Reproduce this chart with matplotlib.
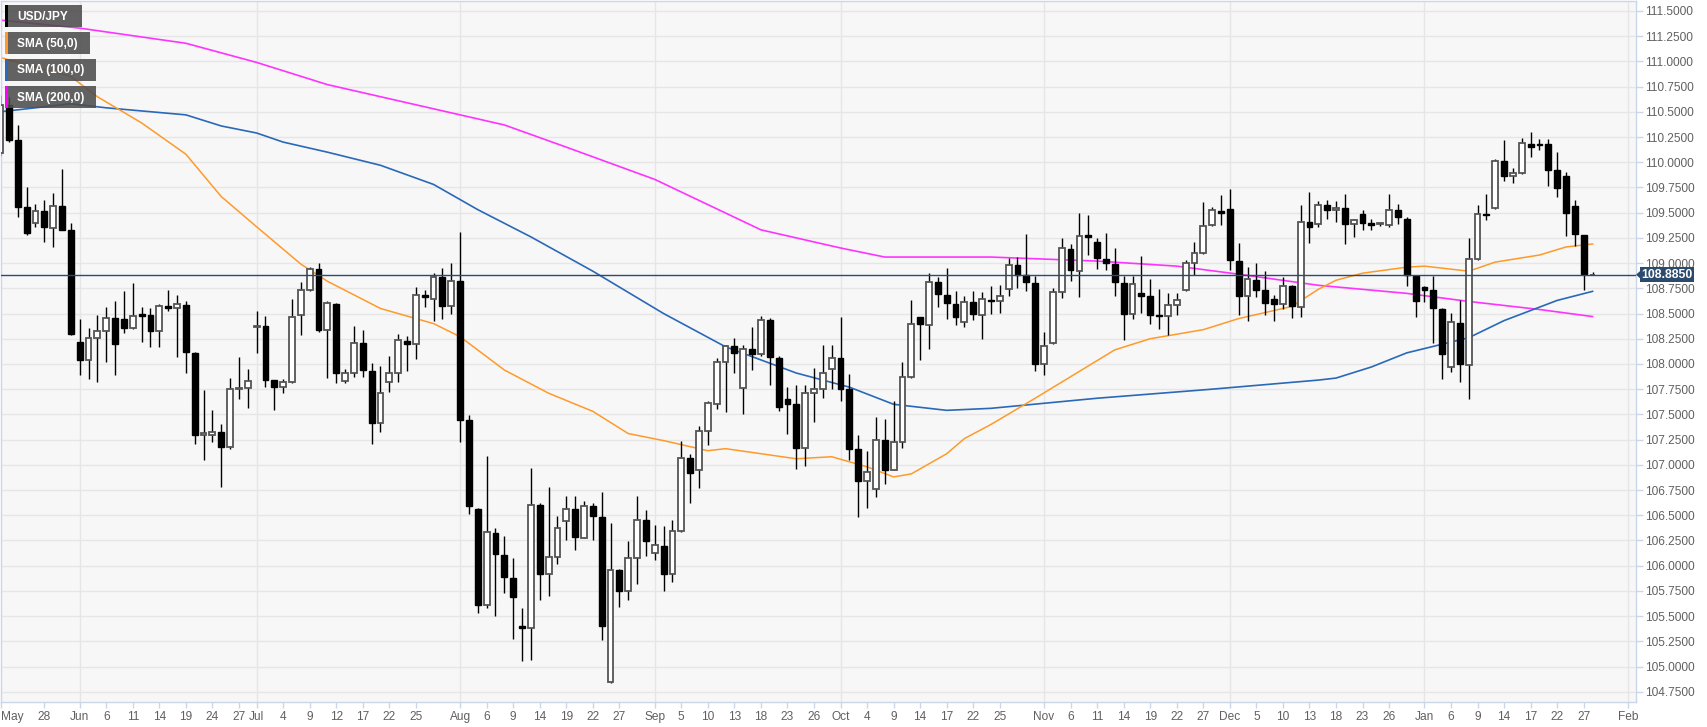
import numpy as np
import pandas as pd
import matplotlib
matplotlib.use('Agg')
import matplotlib.pyplot as plt
from matplotlib.patches import Rectangle, Polygon

plt.rcParams['font.family'] = ['Liberation Sans', 'DejaVu Sans']

# ---------------- data ----------------
start_date, end_date = '2019-05-21', '2020-01-28'
pair = 'USD/JPY'
last_price = 108.885

opens = [
    110.09, 110.57, 110.22, 109.56,
    109.40, 109.52, 109.35, 109.57, 109.33,
    108.22, 108.04, 108.26, 108.33, 108.46,
    108.45, 108.36, 108.50, 108.49, 108.33,
    108.57, 108.55, 108.58, 108.11, 107.30,
    107.30, 107.33, 107.18, 107.75, 107.76,
    108.37, 108.38, 107.84, 107.77, 107.82,
    108.49, 108.73, 108.94, 108.34, 108.59,
    107.83, 107.91, 108.21, 107.93, 107.41,
    107.82, 107.91, 108.23, 108.20, 108.68,
    108.64, 108.86, 108.57, 108.82, 107.44,
    106.56, 105.61, 106.32, 106.11, 105.88,
    105.40, 105.38, 106.60, 105.92, 106.09,
    106.44, 106.56, 106.27, 106.59, 106.48,
    104.85, 105.96, 105.75, 106.08, 106.45,
    106.13, 106.19, 105.92, 106.34, 107.07,
    106.95, 107.34, 107.60, 108.02, 108.18,
    107.76, 108.15, 108.10, 108.44, 108.06,
    107.65, 107.60, 107.17, 107.71, 107.75,
    107.95, 108.06, 107.75, 107.16, 106.84,
    106.76, 107.25, 106.95, 107.23, 107.87,
    108.47, 108.39, 108.81, 108.68, 108.59,
    108.42, 108.61, 108.49, 108.63, 108.62,
    108.74, 108.98, 108.88, 108.80, 108.00,
    108.21, 108.71, 109.14, 108.92, 109.28,
    109.21, 109.04, 108.99, 108.80, 108.50,
    108.70, 108.67, 108.49, 108.48, 108.58,
    108.73, 109.00, 109.10, 109.38, 109.52,
    109.54, 109.02, 108.67, 108.83, 108.73,
    108.64, 108.59, 108.77, 108.56, 109.41,
    109.39, 109.58, 109.53, 109.55, 109.39,
    109.49, 109.40, 109.39, 109.38, 109.53,
    109.44, 108.87, 108.76, 108.73, 108.54,
    107.97, 108.41, 107.99, 109.04, 109.49,
    109.55, 110.01, 109.86, 109.89, 110.18,
    110.18, 110.18, 109.92, 109.86, 109.57,
    109.28, 108.88,
]
highs = [
    110.67, 110.65, 110.37, 109.75,
    109.59, 109.63, 109.70, 109.93, 109.40,
    108.45, 108.36, 108.49, 108.56, 108.62,
    108.72, 108.80, 108.56, 108.55, 108.59,
    108.73, 108.68, 108.62, 108.12, 107.74,
    107.54, 107.40, 107.86, 108.07, 107.95,
    108.53, 108.48, 107.84, 107.85, 108.64,
    108.81, 108.96, 109.00, 108.62, 108.60,
    107.95, 108.38, 108.34, 108.01, 107.98,
    108.08, 108.30, 108.28, 108.76, 108.73,
    108.90, 108.95, 109.00, 109.31, 107.49,
    106.57, 107.09, 106.37, 106.29, 106.08,
    105.58, 106.97, 106.62, 106.78, 106.49,
    106.69, 106.69, 106.64, 106.62, 106.73,
    106.42, 105.97, 106.24, 106.69, 106.55,
    106.40, 106.39, 106.45, 107.24, 107.11,
    107.38, 107.63, 108.06, 108.19, 108.26,
    108.19, 108.37, 108.48, 108.46, 108.08,
    107.77, 107.79, 107.79, 107.96, 108.19,
    108.19, 108.47, 107.90, 107.30, 107.14,
    107.47, 107.45, 107.63, 108.02, 108.63,
    108.47, 108.90, 108.86, 108.95, 108.72,
    108.67, 108.72, 108.71, 108.77, 108.78,
    109.05, 109.06, 109.29, 108.87, 108.32,
    108.75, 109.25, 109.19, 109.50, 109.48,
    109.25, 109.30, 109.15, 108.87, 108.87,
    109.07, 108.84, 108.74, 108.70, 108.70,
    109.03, 109.21, 109.61, 109.56, 109.68,
    109.73, 109.20, 108.96, 109.00, 108.92,
    108.68, 108.86, 108.78, 109.58, 109.71,
    109.62, 109.63, 109.62, 109.69, 109.44,
    109.53, 109.44, 109.40, 109.69, 109.59,
    109.46, 108.87, 108.77, 108.87, 108.55,
    108.51, 108.63, 109.25, 109.58, 109.69,
    110.03, 110.22, 109.94, 110.24, 110.30,
    110.23, 110.23, 110.10, 109.90, 109.63,
    109.28, 108.91,
]
lows = [
    110.06, 110.20, 109.46, 109.28,
    109.36, 109.21, 109.16, 109.33, 108.29,
    107.89, 107.85, 107.82, 108.02, 107.89,
    108.31, 108.35, 108.22, 108.17, 108.17,
    108.53, 108.07, 107.91, 107.21, 107.05,
    107.23, 106.78, 107.16, 107.65, 107.56,
    108.11, 107.77, 107.54, 107.71, 107.81,
    108.29, 108.72, 108.32, 107.86, 107.81,
    107.81, 107.87, 107.87, 107.21, 107.33,
    107.72, 107.82, 107.93, 108.05, 108.56,
    108.43, 108.45, 108.50, 107.23, 106.51,
    105.53, 105.58, 105.50, 105.73, 105.27,
    105.05, 105.06, 105.66, 105.70, 106.02,
    106.25, 106.16, 106.27, 106.25, 105.26,
    104.84, 105.59, 105.66, 105.82, 106.10,
    106.06, 105.75, 105.84, 106.33, 106.62,
    106.77, 107.20, 107.55, 107.52, 107.91,
    107.50, 107.94, 108.08, 107.79, 107.53,
    107.31, 106.96, 106.99, 107.42, 107.66,
    107.75, 107.63, 107.05, 106.48, 106.57,
    106.68, 106.81, 106.95, 107.17, 107.86,
    108.04, 108.15, 108.56, 108.45, 108.39,
    108.37, 108.44, 108.25, 108.50, 108.51,
    108.67, 108.75, 108.72, 107.93, 107.89,
    108.20, 108.65, 108.82, 108.66, 109.08,
    108.94, 108.93, 108.67, 108.24, 108.45,
    108.51, 108.40, 108.35, 108.29, 108.49,
    108.72, 108.88, 109.09, 109.37, 109.38,
    108.93, 108.49, 108.43, 108.66, 108.49,
    108.43, 108.54, 108.46, 108.47, 109.20,
    109.36, 109.44, 109.41, 109.19, 109.26,
    109.33, 109.33, 109.37, 109.36, 109.39,
    108.77, 108.47, 108.61, 108.21, 107.85,
    107.92, 107.82, 107.65, 109.03, 109.43,
    109.54, 109.81, 109.79, 109.88, 110.05,
    110.12, 109.76, 109.66, 109.27, 109.17,
    108.73, 108.88,
]
closes = [
    110.57, 110.22, 109.56, 109.30,
    109.52, 109.36, 109.57, 109.33, 108.30,
    108.04, 108.26, 108.33, 108.46, 108.20,
    108.36, 108.48, 108.48, 108.33, 108.57,
    108.55, 108.59, 108.12, 107.30, 107.32,
    107.33, 107.18, 107.75, 107.76, 107.83,
    108.38, 107.84, 107.77, 107.82, 108.47,
    108.73, 108.94, 108.34, 108.60, 107.91,
    107.91, 108.21, 107.94, 107.41, 107.71,
    107.91, 108.24, 108.20, 108.68, 108.66,
    108.86, 108.57, 108.82, 107.44, 106.59,
    105.61, 106.33, 106.12, 105.89, 105.69,
    105.38, 106.60, 105.92, 106.09, 106.37,
    106.56, 106.28, 106.59, 106.49, 105.40,
    105.96, 105.75, 106.08, 106.45, 106.24,
    106.20, 105.92, 106.34, 107.07, 106.92,
    107.34, 107.61, 108.02, 108.18, 108.11,
    108.15, 108.10, 108.44, 108.07, 107.57,
    107.60, 107.17, 107.71, 107.75, 107.91,
    108.06, 107.75, 107.16, 106.84, 106.93,
    107.25, 106.95, 107.23, 107.87, 108.40,
    108.40, 108.81, 108.69, 108.60, 108.47,
    108.61, 108.50, 108.64, 108.62, 108.67,
    108.98, 108.88, 108.81, 108.00, 108.18,
    108.71, 109.15, 108.93, 109.27, 109.26,
    109.05, 109.00, 108.81, 108.50, 108.79,
    108.67, 108.49, 108.48, 108.58, 108.63,
    109.00, 109.10, 109.37, 109.53, 109.50,
    109.03, 108.67, 108.84, 108.73, 108.60,
    108.59, 108.77, 108.57, 109.41, 109.36,
    109.58, 109.53, 109.55, 109.39, 109.43,
    109.40, 109.38, 109.39, 109.53, 109.46,
    108.88, 108.62, 108.73, 108.55, 108.10,
    108.42, 108.00, 109.04, 109.49, 109.48,
    110.01, 109.86, 109.89, 110.19, 110.15,
    110.17, 109.92, 109.74, 109.50, 109.29,
    108.89, 108.885,
]

sma50_dates = ['2019-05-21', '2019-05-31', '2019-06-05', '2019-06-12', '2019-06-19', '2019-06-25',
               '2019-07-01', '2019-07-08', '2019-07-11', '2019-07-19', '2019-07-29', '2019-08-01',
               '2019-08-08', '2019-08-15', '2019-08-22', '2019-08-28', '2019-09-03', '2019-09-10',
               '2019-09-12', '2019-09-24', '2019-09-30', '2019-10-04', '2019-10-09', '2019-10-11',
               '2019-10-17', '2019-10-21', '2019-10-24', '2019-10-31', '2019-11-13', '2019-11-19',
               '2019-11-27', '2019-12-03', '2019-12-11', '2019-12-16', '2019-12-18', '2019-12-23',
               '2019-12-30', '2020-01-01', '2020-01-08', '2020-01-13', '2020-01-20', '2020-01-23',
               '2020-01-28']
sma50_values = [111.04, 110.85, 110.65, 110.39, 110.08, 109.66,
                109.36, 108.99, 108.82, 108.55, 108.40, 108.27,
                107.94, 107.71, 107.53, 107.31, 107.24, 107.14,
                107.16, 107.06, 107.08, 106.98, 106.88, 106.91,
                107.11, 107.26, 107.40, 107.66, 108.14, 108.25,
                108.34, 108.45, 108.57, 108.74, 108.83, 108.90,
                108.96, 108.97, 108.92, 109.01, 109.08, 109.16,
                109.19]

sma100_dates = ['2019-05-21', '2019-05-31', '2019-06-06', '2019-06-19', '2019-06-25', '2019-07-01',
                '2019-07-04', '2019-07-11', '2019-07-19', '2019-07-29', '2019-08-05', '2019-08-13',
                '2019-08-22', '2019-09-03', '2019-09-12', '2019-09-24', '2019-10-02', '2019-10-09',
                '2019-10-17', '2019-10-24', '2019-11-11', '2019-11-28', '2019-12-16', '2019-12-18',
                '2019-12-24', '2019-12-30', '2020-01-08', '2020-01-14', '2020-01-22', '2020-01-28']
sma100_values = [110.50, 110.58, 110.54, 110.47, 110.36, 110.29,
                 110.20, 110.10, 109.97, 109.78, 109.53, 109.26,
                 108.92, 108.50, 108.17, 107.91, 107.77, 107.60,
                 107.54, 107.56, 107.66, 107.75, 107.84, 107.86,
                 107.97, 108.11, 108.26, 108.43, 108.63, 108.72]

sma200_dates = ['2019-05-21', '2019-06-03', '2019-06-19', '2019-07-01', '2019-07-11', '2019-07-29',
                '2019-08-08', '2019-08-19', '2019-09-02', '2019-09-18', '2019-10-01', '2019-10-08',
                '2019-10-24', '2019-11-11', '2019-11-22', '2019-12-03', '2019-12-16', '2019-12-30',
                '2020-01-08', '2020-01-20', '2020-01-28']
sma200_values = [111.41, 111.33, 111.18, 110.99, 110.77, 110.53,
                 110.37, 110.15, 109.83, 109.33, 109.15, 109.06,
                 109.06, 109.02, 108.97, 108.89, 108.78, 108.70,
                 108.62, 108.54, 108.47]

tick_dates = ['2019-05-28', '2019-06-03', '2019-06-06', '2019-06-11', '2019-06-14', '2019-06-19',
              '2019-06-24', '2019-06-27', '2019-07-01', '2019-07-04', '2019-07-09', '2019-07-12',
              '2019-07-17', '2019-07-22', '2019-07-25', '2019-08-01', '2019-08-06', '2019-08-09',
              '2019-08-14', '2019-08-19', '2019-08-22', '2019-08-27', '2019-09-02', '2019-09-05',
              '2019-09-10', '2019-09-13', '2019-09-18', '2019-09-23', '2019-09-26', '2019-10-01',
              '2019-10-04', '2019-10-09', '2019-10-14', '2019-10-17', '2019-10-22', '2019-10-25',
              '2019-11-01', '2019-11-06', '2019-11-11', '2019-11-14', '2019-11-19', '2019-11-22',
              '2019-11-27', '2019-12-02', '2019-12-05', '2019-12-10', '2019-12-13', '2019-12-18',
              '2019-12-23', '2019-12-26', '2020-01-01', '2020-01-06', '2020-01-09', '2020-01-14',
              '2020-01-17', '2020-01-22', '2020-01-27', '2020-02-03']
month_start_dates = ['2019-06-03', '2019-07-01', '2019-08-01', '2019-09-02', '2019-10-01',
                     '2019-11-01', '2019-12-02', '2020-01-01', '2020-02-03']

# ---------------- helpers ----------------
all_days = pd.bdate_range(start_date, '2020-02-14')
def pos(dates):
    return all_days.get_indexer(pd.to_datetime(dates)).astype(float)

days = pd.bdate_range(start_date, end_date)
xs = pos(days)
o, h, l, c = map(np.asarray, (opens, highs, lows, closes))

W, H = 1707, 727
fig = plt.figure(figsize=(W / 100, H / 100), dpi=100)
fig.patch.set_facecolor('white')
ax = fig.add_axes([0.5 / W, (H - 701.7) / H, 1635.2 / W, 700.7 / H])
ax.set_facecolor('#f7f7f7')

# grid
yt = np.arange(104.75, 111.51, 0.25)
for v in yt:
    ax.axhline(v, color='#e6e6e6', lw=1.0, zorder=0)
for v in pos(month_start_dates):
    ax.axvline(v, color='#e6e6e6', lw=1.0, zorder=0)

# SMAs
ax.plot(pos(sma200_dates), sma200_values, color='#ff33ff', lw=1.2, zorder=2)
ax.plot(pos(sma100_dates), sma100_values, color='#2a68b8', lw=1.2, zorder=2)
ax.plot(pos(sma50_dates), sma50_values, color='#ff9a2a', lw=1.1, zorder=2)

# candles
bw = 0.66
up = c >= o
ax.vlines(xs, l, h, color='black', lw=1.0, zorder=3)
body_lo = np.minimum(o, c)
body_h = np.maximum(np.abs(c - o), 0.004)
ax.bar(xs[up], body_h[up], bottom=body_lo[up], width=bw, facecolor='white',
       edgecolor='#555555', linewidth=1.3, zorder=4)
ax.bar(xs[~up], body_h[~up], bottom=body_lo[~up], width=bw, facecolor='black',
       edgecolor='black', linewidth=1.0, zorder=4)

# last price line
ax.axhline(last_price, color='#2c4a6e', lw=1.0, zorder=5)

# limits
px_per_day = 8.85
ax.set_xlim(0.45 / px_per_day, (1635.7 + 0.45) / px_per_day)
ax.set_ylim(104.651, 111.599)

# axes styling
for s in ax.spines.values():
    s.set_color('#ccd6eb')
    s.set_linewidth(1.0)

ax.yaxis.tick_right()
ax.set_yticks(yt)
ax.set_yticklabels([f'{v:.4f}' for v in yt])
ax.tick_params(axis='y', which='both', length=5, width=1, color='#ccd6eb',
               labelcolor='#606060', labelsize=8.6, pad=2)

tpos = list(pos(tick_dates))
tdates = pd.to_datetime(tick_dates)
month_set = set(pd.to_datetime(month_start_dates))
tlabels = [d.strftime('%b') if d in month_set else str(d.day) for d in tdates]
xticks = [ax.get_xlim()[0]] + tpos
xlabels = ['May'] + tlabels
ax.set_xticks(xticks)
ax.set_xticklabels(xlabels)
ax.tick_params(axis='x', length=4, width=1, color='#ccd6eb', labelcolor='#606060',
               labelsize=8.6, pad=3)
ax.get_xticklabels()[0].set_ha('left')

# legend boxes (figure pixel coords)
def fx(px):
    return px / W
def fy(py):
    return 1 - py / H

legend_items = [(5, 82, 5, 27, 'black', pair),
                (5, 90, 32, 54, '#ff9a2a', 'SMA (50,0)'),
                (5, 96, 59, 81, '#2a68b8', 'SMA (100,0)'),
                (5, 96, 86, 108, '#ff00ff', 'SMA (200,0)')]
for x0, x1, y0, y1, col, lab in legend_items:
    fig.add_artist(Rectangle((fx(x0), fy(y1)), fx(x1) - fx(x0), fy(y0) - fy(y1),
                             transform=fig.transFigure, facecolor='#4d4d4d', alpha=0.88,
                             edgecolor='none', zorder=20))
    fig.add_artist(Rectangle((fx(x0), fy(y1)), fx(3), fy(y0) - fy(y1),
                             transform=fig.transFigure, facecolor=col, edgecolor='none', zorder=21))
    fig.text(fx(17), fy((y0 + y1) / 2 + 0.5), lab, color='white', fontsize=8.6,
             fontweight='bold', va='center', ha='left', zorder=22)

# last price label
fig.canvas.draw()
ypix = ax.transData.transform((0, last_price))[1]
yc = H - ypix
box_col = '#2c4a6e'
fig.add_artist(Rectangle((fx(1640), fy(yc + 7.5)), fx(1694) - fx(1640), fy(yc - 7.5) - fy(yc + 7.5),
                         transform=fig.transFigure, facecolor=box_col, edgecolor='none', zorder=20))
fig.add_artist(Polygon([(fx(1636), fy(yc)), (fx(1640.5), fy(yc - 4)), (fx(1640.5), fy(yc + 4))],
                       closed=True, transform=fig.transFigure, facecolor=box_col,
                       edgecolor='none', zorder=20))
fig.text(fx(1667), fy(yc + 0.5), f'{last_price:.4f}', color='white', fontsize=8.8,
         fontweight='bold', va='center', ha='center', zorder=22)

fig.savefig('out.png', dpi=100)
